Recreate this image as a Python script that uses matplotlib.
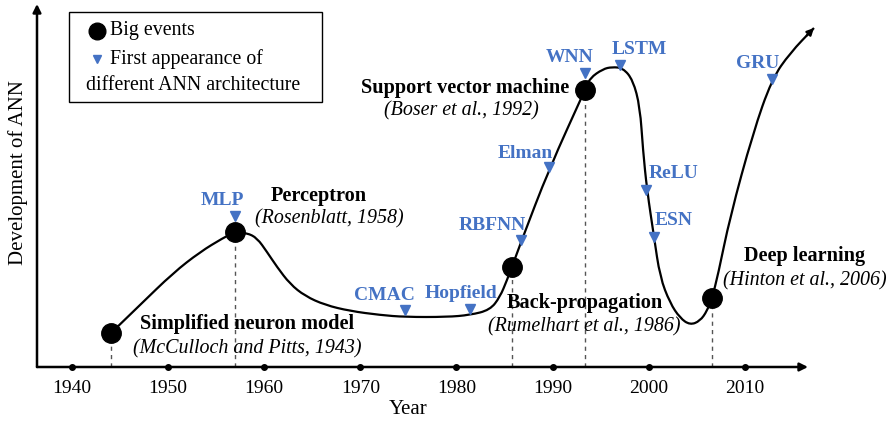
import matplotlib
matplotlib.use("Agg")
import matplotlib.pyplot as plt
from matplotlib.patches import Rectangle, PathPatch
from matplotlib.lines import Line2D
from matplotlib.path import Path

plt.rcParams['font.family'] = ['Liberation Serif', 'DejaVu Serif']
plt.rcParams['font.size'] = 14

BLUE = '#4472C4'

# development curve (year, level)
curve_year = [1944.08, 1947.09, 1950.53, 1953.33, 1955.72, 1956.97, 1958.22, 1959.26,
              1960.30, 1961.34, 1962.69, 1964.25, 1966.33, 1968.93, 1972.05, 1974.65,
              1979.01, 1981.40, 1983.48, 1984.52, 1985.25, 1985.77, 1986.71, 1989.62,
              1993.36, 1993.88, 1995.23, 1996.17, 1997.31, 1998.35, 1999.08, 1999.39,
              1999.81, 2000.54, 2001.16, 2002.20, 2003.24, 2004.28, 2005.32, 2006.05,
              2006.57, 2007.19, 2008.44, 2010.83, 2012.80, 2014.68, 2017.17]
curve_level = [34, 62, 94, 115, 129, 135, 134, 129,
               115, 100, 83, 71, 62, 56, 52, 50,
               50, 52, 57, 70, 87, 100, 125, 198,
               277, 289, 298, 300, 299, 287, 260, 217,
               177, 130, 90, 64, 49, 42, 46, 56,
               69, 92, 150, 234, 288, 314, 339]

# big events
event_year = [1944.08, 1956.97, 1985.77, 1993.36, 2006.57]
event_level = [34, 135, 100, 277, 69]
event_title = ['Simplified neuron model', 'Perceptron', 'Back-propagation',
               'Support vector machine', 'Deep learning']
event_ref = ['(McCulloch and Pitts, 1943)', '(Rosenblatt, 1958)',
             '(Rumelhart et al., 1986)', '(Boser et al., 1992)',
             '(Hinton et al., 2006)']
# label offsets from the dot, pixels: (title dx, title dy, ref dx, ref dy)
event_offset = [(136, 9, 136, -16), (84, 36, 94, 13), (73, -36, 72, -60),
                (-120, 2, -124, -21), (93, 42, 93, 17)]

# first appearance of architectures
arch_name = ['MLP', 'CMAC', 'Hopfield', 'RBFNN', 'Elman', 'WNN', 'LSTM',
             'ReLU', 'ESN', 'GRU']
arch_year = [1956.97, 1974.65, 1981.40, 1986.71, 1989.62, 1993.36, 1997.00,
             1999.70, 2000.54, 2012.80]
arch_level = [151, 57, 58, 127, 200, 294, 302, 177, 130, 288]
arch_offset = [(-13, 16), (-21, 15), (-9, 16), (-29, 15), (-24, 14), (-15, 15),
               (19, 15), (28, 17), (20, 17), (-14, 16)]

decades = [1940, 1950, 1960, 1970, 1980, 1990, 2000, 2010]

fig = plt.figure(figsize=(8.9, 4.23), dpi=100)
ax = fig.add_axes([37 / 890, 56 / 423, 771 / 890, 363 / 423])
ax.set_xlim(1936.38, 2016.55)
ax.set_ylim(0, 363)
for s in ax.spines.values():
    s.set_visible(False)
ax.set_yticks([])
ax.set_xticks(decades)
ax.tick_params(axis='x', length=0, pad=9, labelsize=14)

# axes with arrow heads
arrow = dict(arrowstyle='-|>', color='black', lw=1.8, mutation_scale=12,
             shrinkA=0, shrinkB=0)
ax.annotate('', xy=(1, 0), xytext=(0, 0), xycoords='axes fraction',
            arrowprops=arrow, annotation_clip=False)
ax.annotate('', xy=(0, 1), xytext=(0, 0), xycoords='axes fraction',
            arrowprops=arrow, annotation_clip=False)
ax.plot(decades, [0] * len(decades), 'o', color='black', ms=4, clip_on=False, zorder=5)

ax.set_xlabel('Year', fontsize=15)
ax.xaxis.set_label_coords(0.481, -0.118)
ax.xaxis.label.set_va('center')
ax.set_ylabel('Development of ANN', fontsize=15)
ax.yaxis.set_label_coords(-0.025, 0.537)
ax.yaxis.label.set_va('center')

# dashed drop lines
ax.vlines(event_year, 0, event_level, colors='#555555', linestyles=(0, (3, 3)), lw=1, zorder=1)

# smooth curve: read points used as quadratic bezier controls
pts = list(zip(curve_year, curve_level))
verts = [pts[0]]
codes = [Path.MOVETO]
for i in range(1, len(pts) - 1):
    mid = ((pts[i][0] + pts[i + 1][0]) / 2, (pts[i][1] + pts[i + 1][1]) / 2)
    verts += [pts[i], mid]
    codes += [Path.CURVE3, Path.CURVE3]
verts.append(pts[-1])
codes.append(Path.LINETO)
ax.add_patch(PathPatch(Path(verts, codes), fill=False, ec='black', lw=1.6,
                       clip_on=False, zorder=2))
# arrow head at the end of the curve
tail = (curve_year[-1] - 0.3 * (curve_year[-1] - curve_year[-2]),
        curve_level[-1] - 0.3 * (curve_level[-1] - curve_level[-2]))
ax.annotate('', xy=(curve_year[-1], curve_level[-1]), xytext=tail,
            arrowprops=dict(arrowstyle='-|>', color='black', lw=1.6, mutation_scale=10,
                            shrinkA=0, shrinkB=0), annotation_clip=False)

ax.plot(event_year, event_level, 'o', color='black', ms=14, zorder=4, clip_on=False)
ax.plot(arch_year, arch_level, 'v', color=BLUE, ms=7, zorder=4)

for x, y, t, r, o in zip(event_year, event_level, event_title, event_ref, event_offset):
    ax.annotate(t, (x, y), xytext=(o[0], o[1]), textcoords='offset pixels',
                ha='center', va='center', fontweight='bold', fontsize=14.6)
    ax.annotate(r, (x, y), xytext=(o[2], o[3]), textcoords='offset pixels',
                ha='center', va='center', style='italic', fontsize=14.4)

for x, y, n, o in zip(arch_year, arch_level, arch_name, arch_offset):
    ax.annotate(n, (x, y), xytext=o, textcoords='offset pixels', ha='center',
                va='center', fontweight='bold', color=BLUE, fontsize=14)

# legend box
fig.add_artist(Rectangle((69 / 890, 1 - 102 / 423), 253 / 890, 90 / 423,
                         transform=fig.transFigure, fill=False, ec='black', lw=1))
fig.add_artist(Line2D([97 / 890], [1 - 31 / 423], marker='o', color='black', ms=12,
                      transform=fig.transFigure))
fig.add_artist(Line2D([97 / 890], [1 - 59 / 423], marker='v', color=BLUE, ms=6,
                      transform=fig.transFigure))
fig.text(110 / 890, 1 - 31 / 423, 'Big events', va='center', fontsize=14.3)
fig.text(110 / 890, 1 - 59 / 423, 'First appearance of', va='center', fontsize=14.3)
fig.text(86 / 890, 1 - 86 / 423, 'different ANN architecture', va='center', fontsize=14.3)

fig.savefig('out.png', dpi=100)
